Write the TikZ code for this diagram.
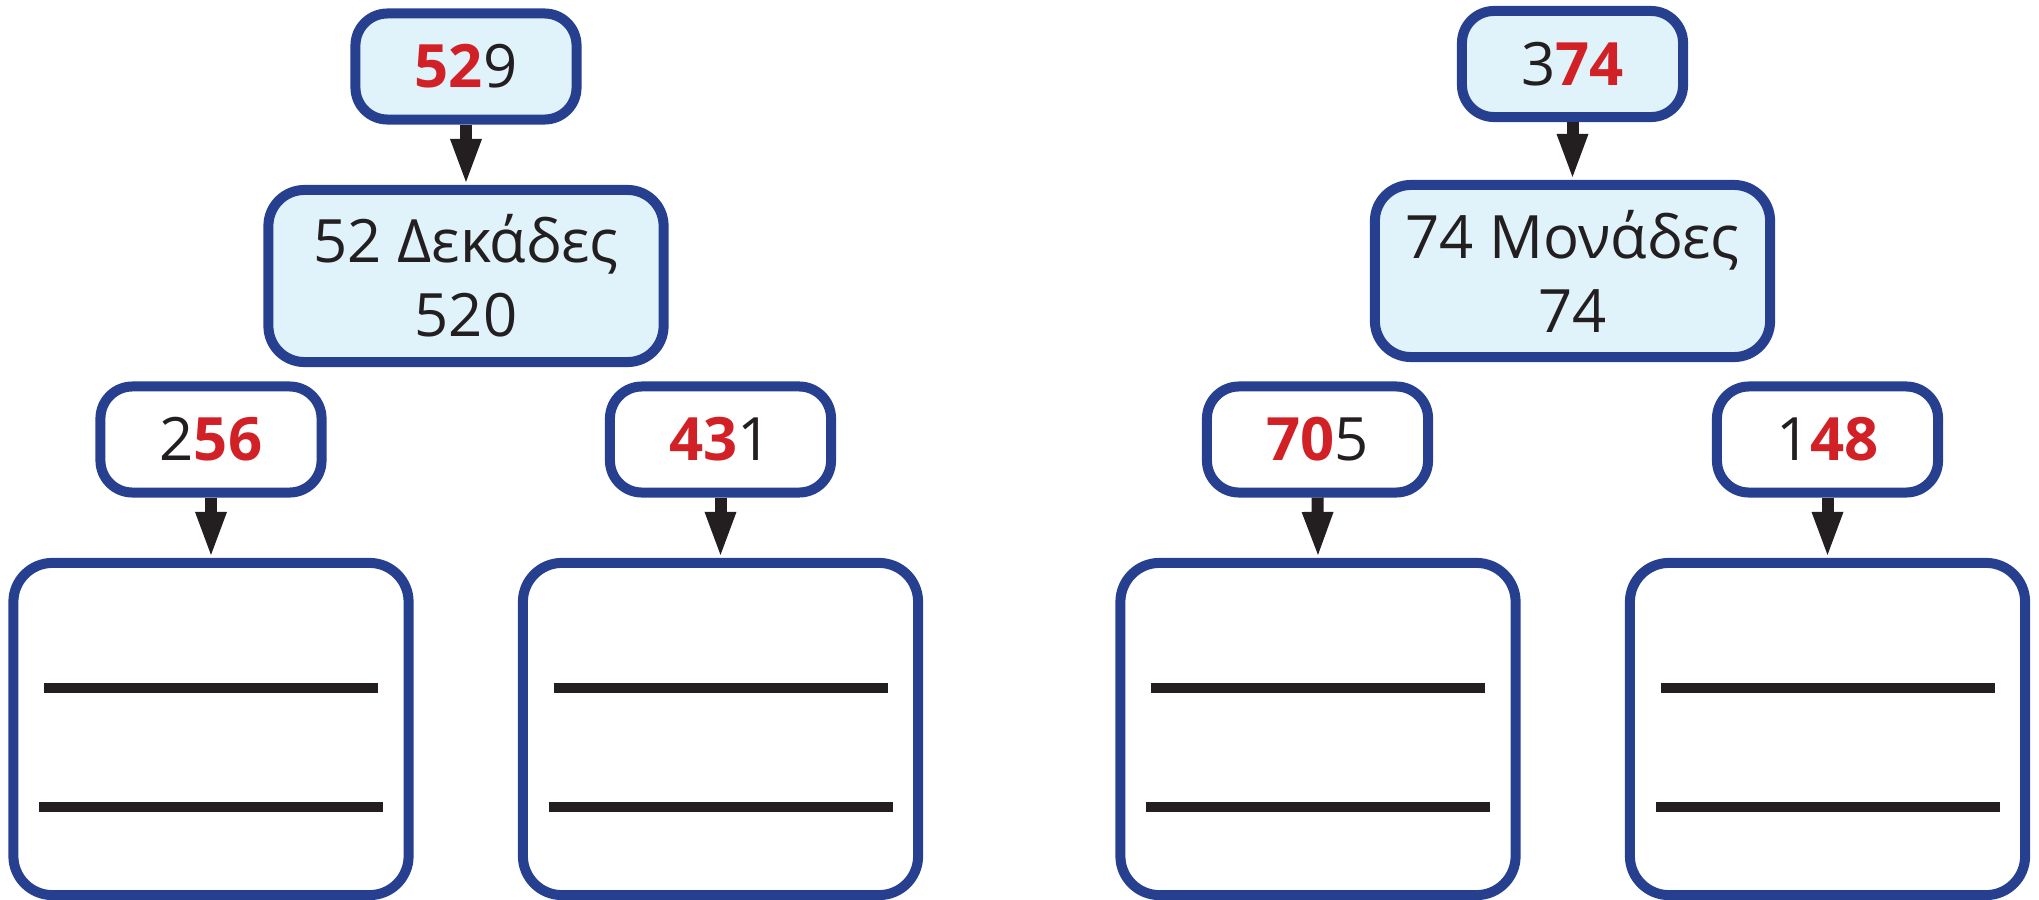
\documentclass[tikz,border=0pt]{standalone}
\usepackage{fontspec}
\setmainfont{Open Sans}
\usepackage{xcolor}
\usepackage{tikz}
\usetikzlibrary{arrows.meta, calc}
\definecolor{boxblue}{RGB}{38,64,143}
\definecolor{boxfill}{RGB}{224,242,250}
\definecolor{numred}{RGB}{209,33,39}
\definecolor{inkblack}{RGB}{35,31,32}

\tikzset{
    numbox/.style={draw=boxblue, line width=1mm, rounded corners=3.2mm, minimum width=2.21cm, minimum height=1.06cm, inner sep=0pt, text=inkblack, font=\fontsize{17}{21}\selectfont},
    topbox/.style={numbox, fill=boxfill},
    midbox/.style={numbox, fill=boxfill, rounded corners=3.6mm, minimum width=3.95cm, minimum height=1.72cm, align=center},
    workbox/.style={numbox, rounded corners=3.9mm, minimum width=3.95cm, minimum height=3.32cm},
    downarrow/.style={-{Triangle[width=3.2mm, length=4.3mm, line width=0pt]}, line width=1.2mm, draw=inkblack, shorten >=0.3mm},
    writeline/.style={line width=1mm, draw=inkblack}
}
\newcommand{\rd}[1]{\textcolor{numred}{\bfseries #1}}

\begin{document}
\begin{tikzpicture}[x=0.01cm, y=-0.01cm]
    \useasboundingbox (0,0) rectangle (2039,900);

    % Left tree: 529
    \node[topbox] (n529) at (466, 66.5) {\rd{52}9};
    \node[midbox] (d52) at (466, 276) {52 Δεκάδες\\520};
    \draw[downarrow] (n529.south) -- (d52.north);

    \node[numbox] (s256) at (211, 439.5) {2\rd{56}};
    \node[numbox] (s431) at (720.5, 439.5) {\rd{43}1};
    \node[workbox] (w256) at (211, 729) {};
    \node[workbox] (w431) at (720.5, 729) {};
    \draw[downarrow] (s256.south) -- (w256.north);
    \draw[downarrow] (s431.south) -- (w431.north);

    % Right tree: 374
    \node[topbox] (n374) at (1572.5, 64) {3\rd{74}};
    \node[midbox] (m74) at (1572.5, 271) {74 Μονάδες\\74};
    \draw[downarrow] (n374.south) -- (m74.north);

    \node[numbox] (s705) at (1317.5, 439.5) {\rd{70}5};
    \node[numbox] (s148) at (1827.5, 439.5) {1\rd{48}};
    \node[workbox] (w705) at (1318, 729) {};
    \node[workbox] (w148) at (1827.5, 729) {};
    \draw[downarrow] (s705.south) -- (w705.north);
    \draw[downarrow] (s148.south) -- (w148.north);

    % Answer lines in the work boxes
    \foreach \w in {w256, w431, w705, w148} {
        \draw[writeline] ($(\w.north)+(-167,130)$) -- ++(334,0);
        \draw[writeline] ($(\w.north)+(-172,249)$) -- ++(344,0);
    }
\end{tikzpicture}
\end{document}
